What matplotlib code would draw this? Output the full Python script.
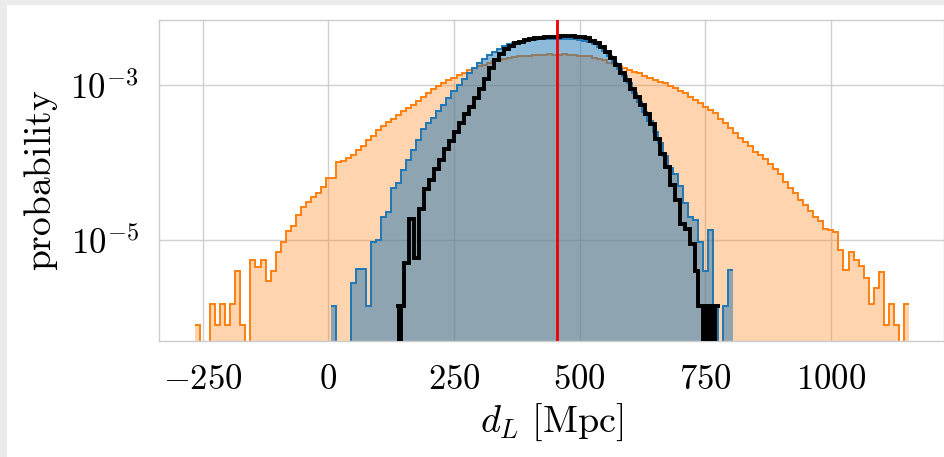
import numpy as np
import matplotlib
matplotlib.use("Agg")
import matplotlib.pyplot as plt
from matplotlib.patches import Rectangle
from matplotlib.ticker import FixedLocator, FuncFormatter, NullLocator

plt.rcParams['mathtext.fontset'] = 'cm'
plt.rcParams['font.family'] = ['DejaVu Serif']

# ---------------- data (probability densities, in units of 1e-6 per Mpc) ----------------
bin_width = 10.0

# orange histogram: first bin starts at -265 Mpc
orange_start = -265.0
orange_e6 = [
    0.8, 0, 0, 1.5, 0.8, 1.5, 0.8, 1.5, 4.0, 0.8,
    0, 5.5, 4.5, 5.5, 3.0, 4.0, 7.0, 9.5, 13, 15,
    21, 27, 31, 36, 40, 48, 63, 63, 102, 105,
    115, 126, 145, 166, 195, 220, 260, 300, 330, 370,
    410, 460, 500, 560, 630, 710, 790, 890, 980, 1050,
    1150, 1230, 1350, 1450, 1550, 1660, 1740, 1820, 1950, 2040,
    2090, 2190, 2240, 2290, 2340, 2400, 2400, 2450, 2450, 2450,
    2500, 2450, 2450, 2500, 2450, 2450, 2400, 2400, 2340, 2240,
    2190, 2090, 1950, 1860, 1740, 1660, 1580, 1480, 1410, 1320,
    1230, 1170, 1100, 1050, 980, 910, 850, 780, 710, 650,
    590, 520, 480, 430, 370, 320, 280, 240, 205, 182,
    162, 138, 126, 112, 95, 83, 71, 56, 47, 40,
    33, 28, 24, 20, 17.8, 14, 13.5, 12.6, 7.4, 4.1,
    7.1, 5.6, 4.6, 3.2, 1.5, 2.4, 3.9, 0.8, 1.5, 0.8,
    0, 1.5,
]

# blue histogram: first bin starts at 5 Mpc
blue_start = 5.0
blue_e6 = [
    1.4, 0, 0, 0, 2.8, 4.2, 4.2, 1.4, 9.5, 10,
    20, 23, 47, 54, 80, 107, 145, 195, 275, 320,
    380, 460, 560, 680, 830, 1000, 1200, 1450, 1650, 1900,
    2150, 2450, 2700, 2950, 3150, 3350, 3500, 3600, 3700, 3800,
    3850, 3900, 3900, 3950, 3950, 3950, 3950, 3900, 3900, 3850,
    3750, 3600, 3400, 3100, 2750, 2350, 1950, 1600, 1300, 1050,
    800, 600, 450, 340, 250, 180, 120, 85, 72, 50,
    30, 20, 18, 9.5, 4.0, 13.5, 1.4, 0, 1.4, 4.1,
]

# black histogram: fine bins in the tails, 10 Mpc bins in the core
black_tail_width = 5.0
black_left_start = 135.0
black_left_e6 = [1.4, 0, 1.4]
black_core_start = 150.0
black_core_e6 = [
    5.0, 19, 5.8, 25, 45, 60, 83, 107, 148, 190,
    250, 320, 420, 525, 680, 890, 1200, 1660, 2090, 2500,
    2880, 3160, 3470, 3630, 3800, 3980, 4050, 4100, 4150, 4200,
    4200, 4250, 4250, 4250, 4200, 4150, 4000, 3750, 3450, 3050,
    2650, 2200, 1800, 1450, 1150, 900, 700, 550, 420, 310,
    200, 130, 88, 52, 33, 16, 14, 9,
]
black_right_e6 = [4.0, 1.4, 1.4, 0, 1.4, 0, 1.4, 0, 1.4, 1.4]

true_dL = 455.0

x_ticks = [-250, 0, 250, 500, 750, 1000]
y_ticks = [1e-3, 1e-5]

# ---------------- derived arrays ----------------
orange_vals = np.array(orange_e6) * 1e-6
orange_edges = orange_start + bin_width * np.arange(len(orange_vals) + 1)
blue_vals = np.array(blue_e6) * 1e-6
blue_edges = blue_start + bin_width * np.arange(len(blue_vals) + 1)

bl_edges = black_left_start + black_tail_width * np.arange(len(black_left_e6))
bc_edges = black_core_start + bin_width * np.arange(len(black_core_e6))
br_start = black_core_start + bin_width * len(black_core_e6)
br_edges = br_start + black_tail_width * np.arange(len(black_right_e6) + 1)
black_edges = np.concatenate([bl_edges, bc_edges, br_edges])
black_vals = np.array(black_left_e6 + black_core_e6 + black_right_e6) * 1e-6

# ---------------- figure ----------------
W, H = 945, 457
fig = plt.figure(figsize=(W / 100, H / 100), dpi=100)
fig.patches.append(Rectangle((0, 1 - 5 / H), 1, 5 / H, transform=fig.transFigure,
                             facecolor='#ebebeb', edgecolor='none', zorder=-10))
fig.patches.append(Rectangle((0, 0), 7 / W, 1, transform=fig.transFigure,
                             facecolor='#ebebeb', edgecolor='none', zorder=-10))

ax_l, ax_r, ax_t, ax_b = 159.5, 944.0, 20.0, 341.0
ax = fig.add_axes([ax_l / W, 1 - ax_b / H, (ax_r - ax_l) / W, (ax_b - ax_t) / H])
ax.set_yscale('log', nonpositive='clip')

orange = '#ff7f0e'
blue = '#1f77b4'

ax.stairs(orange_vals, orange_edges, fill=True, color=orange, alpha=0.33,
          baseline=1e-12, zorder=1, linewidth=0)
ax.stairs(orange_vals, orange_edges, color=orange, linewidth=1.4, baseline=None, zorder=1.1)
ax.stairs(blue_vals, blue_edges, fill=True, color=blue, alpha=0.5,
          baseline=1e-12, zorder=2, linewidth=0)
ax.stairs(blue_vals, blue_edges, color=blue, linewidth=1.4, baseline=None, zorder=2.1)
ax.stairs(black_vals, black_edges, color='black', linewidth=2.8, baseline=None, zorder=3)
ax.axvline(true_dL, color='#ee0000', linewidth=2.0, zorder=4)

ax.set_xlim(-336, 1225)
ax.set_ylim(5e-7, 6.9e-3)

ax.xaxis.set_major_locator(FixedLocator(x_ticks))
ax.xaxis.set_major_formatter(FuncFormatter(lambda v, p: r'$%d$' % v))
ax.yaxis.set_major_locator(FixedLocator(y_ticks))
ax.yaxis.set_major_formatter(FuncFormatter(lambda v, p: r'$10^{%d}$' % int(round(np.log10(v)))))
ax.yaxis.set_minor_locator(NullLocator())
ax.tick_params(axis='both', which='both', length=0, labelsize=25)
ax.tick_params(axis='x', pad=15)
ax.tick_params(axis='y', pad=15)

ax.set_axisbelow(True)
ax.grid(True, color='#d0d0d0', linewidth=1.0)
for s in ax.spines.values():
    s.set_color('#cccccc')
    s.set_linewidth(1.0)

ax.set_xlabel(r'$d_L\ [\mathrm{Mpc}]$', fontsize=27.5)
ax.set_ylabel(r'$\mathrm{probability}$', fontsize=27)
ax.xaxis.set_label_coords(0.5, -0.189)
ax.yaxis.set_label_coords(-0.127, 0.5)

fig.savefig('out.png', dpi=100)
